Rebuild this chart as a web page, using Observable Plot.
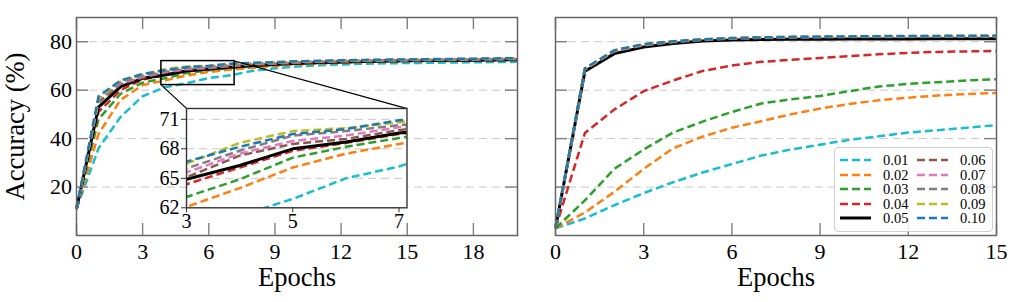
<!DOCTYPE html>
<html>
<head>
<meta charset="utf-8">
<script src="https://cdn.jsdelivr.net/npm/d3@7"></script>
<script src="https://cdn.jsdelivr.net/npm/@observablehq/plot@0.6"></script>
<style>
  body { margin: 0; background: #fff; }
  #wrap { position: relative; width: 1017px; height: 302px; font-family: "Liberation Serif", "Times New Roman", serif; overflow: hidden; }
  #wrap > svg { position: absolute; overflow: visible; }
  .legend { position: absolute; border: 1px solid #cfcfcf; border-radius: 4px; background: rgba(255,255,255,0.85); box-sizing: border-box; }
  .legend .item { position: absolute; height: 14px; display: flex; align-items: center; font-size: 14.5px; line-height: 14px; color: #000; }
  .legend svg { display: block; margin-right: 12px; }
</style>
</head>
<body>
<div id="wrap"></div>
<script>
// ---------------- data ----------------
const lrLabels = ["0.01", "0.02", "0.03", "0.04", "0.05", "0.06", "0.07", "0.08", "0.09", "0.10"];
const lrColors = ["#17becf", "#ff7f0e", "#2ca02c", "#d62728", "#000000", "#8c564b", "#e377c2", "#7f7f7f", "#bcbd22", "#1f77b4"];

// left panel (epochs 0..20)
const epochsLeft = [0, 1, 2, 3, 4, 5, 6, 7, 8, 9, 10, 11, 12, 13, 14, 15, 16, 17, 18, 19, 20];
const left001 = [11, 36, 49, 57.5, 61.2, 62.9, 65.0, 66.2, 68.0, 69.0, 69.8, 70.3, 70.6, 70.9, 71.1, 71.2, 71.3, 71.4, 71.5, 71.6, 71.7];
const left002 = [11, 42, 56, 62.1, 64.0, 66.1, 67.5, 68.5, 69.3, 70.0, 70.6, 71.0, 71.3, 71.6, 71.8, 72.0, 72.1, 72.2, 72.3, 72.4, 72.5];
const left003 = [11, 48, 58.5, 63.1, 64.9, 67.1, 68.2, 69.1, 69.8, 70.4, 70.9, 71.3, 71.6, 71.8, 72.0, 72.2, 72.3, 72.4, 72.5, 72.6, 72.7];
const left004 = [11, 51, 60, 64.4, 66.1, 67.8, 68.6, 69.5, 70.1, 70.6, 71.0, 71.3, 71.6, 71.8, 72.0, 72.2, 72.3, 72.4, 72.5, 72.6, 72.7];
const left005 = [11, 53, 61.5, 64.9, 66.3, 68.0, 68.7, 69.6, 70.2, 70.7, 71.1, 71.4, 71.6, 71.8, 72.0, 72.1, 72.2, 72.3, 72.4, 72.5, 72.6];
const left006 = [11, 55, 62.5, 65.1, 67.3, 68.5, 69.0, 69.9, 70.5, 70.9, 71.3, 71.6, 71.8, 72.0, 72.2, 72.3, 72.4, 72.5, 72.6, 72.7, 72.8];
const left007 = [11, 56, 63, 65.6, 67.5, 68.8, 69.35, 70.2, 70.7, 71.1, 71.5, 71.8, 72.0, 72.2, 72.3, 72.4, 72.5, 72.6, 72.7, 72.8, 72.9];
const left008 = [11, 56, 63.5, 66.0, 67.8, 69.35, 69.8, 70.4, 70.9, 71.3, 71.6, 71.9, 72.1, 72.3, 72.4, 72.5, 72.6, 72.7, 72.8, 72.9, 73.0];
const left009 = [11, 56.5, 64, 66.5, 68.6, 69.8, 70.1, 70.7, 71.1, 71.5, 71.8, 72.0, 72.2, 72.4, 72.5, 72.6, 72.7, 72.8, 72.9, 73.0, 73.1];
const left010 = [11, 57.5, 64, 66.7, 68.2, 69.5, 70.0, 70.9, 71.3, 71.6, 71.9, 72.1, 72.3, 72.5, 72.6, 72.7, 72.8, 72.9, 73.0, 73.1, 73.2];

// right panel (epochs 0..15)
const epochsRight = [0, 1, 2, 3, 4, 5, 6, 7, 8, 9, 10, 11, 12, 13, 14, 15];
const right001 = [3, 7, 12.5, 17.5, 22, 26, 29.5, 33, 35.5, 37.5, 39.5, 41, 42.5, 43.5, 44.5, 45.6];
const right002 = [3, 9.5, 18, 27.5, 36, 40.8, 44.5, 47.2, 50, 52.4, 54.3, 55.8, 56.9, 57.8, 58.4, 58.8];
const right003 = [3, 14.5, 27.5, 35.5, 42.5, 47, 51, 54.5, 56.2, 57.6, 59.6, 61.5, 62.6, 63.3, 64.0, 64.5];
const right004 = [3, 42.3, 52, 59.6, 64, 67.9, 70.2, 71.7, 72.5, 73.3, 74.1, 74.8, 75.4, 75.8, 76.0, 76.2];
const right005 = [3, 67.8, 75.1, 77.8, 79.3, 80.3, 80.7, 80.9, 81.0, 81.0, 81.1, 81.1, 81.1, 81.2, 81.2, 81.2];
const right006 = [3, 68.5, 76.0, 78.5, 79.8, 80.7, 81.2, 81.5, 81.7, 81.8, 81.9, 82.0, 82.0, 82.1, 82.1, 82.1];
const right007 = [3, 68.7, 76.2, 78.7, 80.0, 80.9, 81.4, 81.7, 81.9, 82.0, 82.1, 82.2, 82.2, 82.3, 82.3, 82.3];
const right008 = [3, 68.8, 76.3, 78.8, 80.0, 80.9, 81.4, 81.7, 81.9, 82.0, 82.1, 82.2, 82.3, 82.3, 82.3, 82.4];
const right009 = [3, 68.9, 76.4, 78.9, 80.1, 81.0, 81.5, 81.8, 82.0, 82.1, 82.2, 82.3, 82.3, 82.4, 82.4, 82.4];
const right010 = [3, 69, 76.5, 79, 80.2, 81.0, 81.5, 81.8, 82.0, 82.1, 82.2, 82.3, 82.4, 82.4, 82.5, 82.5];

// ticks
const xTicksLeft = [0, 3, 6, 9, 12, 15, 18];
const xTicksRight = [0, 3, 6, 9, 12, 15];
const yTicks = [20, 40, 60, 80];
const insetXTicks = [3, 5, 7];
const insetYTicks = [62, 65, 68, 71];

// domains / annotation geometry (data units)
const xDomainLeft = [0, 20];
const xDomainRight = [0, 15];
const yDomain = [0, 90];
const insetXDomain = [3, 7.15];
const insetYDomain = [62, 72.1];
const zoomBox = {x1: 3.85, x2: 7.17, y1: 62.1, y2: 72};
const insetPlace = {x1: 5, x2: 15, y1: 11.4, y2: 52.4};

// ---------------- helpers ----------------
const serif = "'Liberation Serif', 'Times New Roman', serif";
function rowsOf(epochs, series) {
  const rows = [];
  series.forEach((vals, i) => vals.forEach((v, j) => rows.push({epoch: epochs[j], acc: v, lr: lrLabels[i], k: i})));
  return rows;
}
const leftRows = rowsOf(epochsLeft, [left001, left002, left003, left004, left005, left006, left007, left008, left009, left010]);
const rightRows = rowsOf(epochsRight, [right001, right002, right003, right004, right005, right006, right007, right008, right009, right010]);

function lineMarks(rows, extra = {}) {
  return lrLabels.map((lr, i) => Plot.line(rows.filter(d => d.lr === lr), {
    x: "epoch", y: "acc",
    stroke: lrColors[i],
    strokeWidth: lr === "0.05" ? 3 : 2.5,
    strokeDasharray: lr === "0.05" ? null : "8,4",
    strokeLinecap: "butt",
    strokeLinejoin: "round",
    ...extra
  }));
}
function inwardTicks(xt, yt, innerW, innerH, len) {
  const o = {stroke: "#808080", strokeWidth: 1.4};
  return [
    Plot.tickX(xt, {x: d => d, insetTop: innerH - len, ...o}),
    Plot.tickX(xt, {x: d => d, insetBottom: innerH - len, ...o}),
    Plot.tickY(yt, {y: d => d, insetRight: innerW - len, ...o}),
    Plot.tickY(yt, {y: d => d, insetLeft: innerW - len, ...o})
  ];
}
const grid = (yt) => Plot.ruleY(yt, {stroke: "#c8c8c8", strokeWidth: 1, strokeDasharray: "8,5"});

const wrap = document.getElementById("wrap");
function place(svg, left, top) {
  svg.style.left = left + "px";
  svg.style.top = top + "px";
  wrap.appendChild(svg);
}

// ---------------- left panel ----------------
const LW = 530, H = 302;
const LM = {l: 76, r: 13, t: 17, b: 67};
const leftPlot = Plot.plot({
  width: LW, height: H,
  marginLeft: LM.l, marginRight: LM.r, marginTop: LM.t, marginBottom: LM.b,
  x: {domain: xDomainLeft, axis: null},
  y: {domain: yDomain, axis: null},
  style: {fontFamily: serif, background: "transparent", color: "#000"},
  marks: [
    grid(yTicks),
    ...lineMarks(leftRows),
    Plot.rect([zoomBox], {x1: "x1", x2: "x2", y1: "y1", y2: "y2", fill: "none", stroke: "#000", strokeWidth: 1.5}),
    Plot.link([
      {x1: zoomBox.x1, y1: zoomBox.y1, x2: insetPlace.x1, y2: insetPlace.y2},
      {x1: zoomBox.x2, y1: zoomBox.y2, x2: insetPlace.x2, y2: insetPlace.y2}
    ], {x1: "x1", y1: "y1", x2: "x2", y2: "y2", stroke: "#000", strokeWidth: 1.2}),
    ...inwardTicks(xTicksLeft, yTicks, LW - LM.l - LM.r, H - LM.t - LM.b, 12),
    Plot.frame({stroke: "#666", strokeWidth: 1.5}),
    Plot.axisX(xTicksLeft, {tickSize: 0, tickPadding: 8, fontSize: 22, label: null}),
    Plot.axisY(yTicks, {tickSize: 0, tickPadding: 4.5, fontSize: 22, label: null}),
    Plot.text(["Epochs"], {frameAnchor: "bottom", lineAnchor: "middle", textAnchor: "middle", dy: 42, fontSize: 26.5}),
    Plot.text(["Accuracy (%)"], {frameAnchor: "left", lineAnchor: "middle", textAnchor: "middle", dx: -61, rotate: -90, fontSize: 26.5})
  ]
});
place(leftPlot, 0, 0);

// ---------------- inset ----------------
const sx = leftPlot.scale("x"), sy = leftPlot.scale("y");
const ix1 = sx.apply(insetPlace.x1), ix2 = sx.apply(insetPlace.x2);
const iyTop = sy.apply(insetPlace.y2), iyBot = sy.apply(insetPlace.y1);
const IM = {l: 45, r: 6, t: 6, b: 30};
const insetPlot = Plot.plot({
  width: (ix2 - ix1) + IM.l + IM.r,
  height: (iyBot - iyTop) + IM.t + IM.b,
  marginLeft: IM.l, marginRight: IM.r, marginTop: IM.t, marginBottom: IM.b,
  x: {domain: insetXDomain, axis: null},
  y: {domain: insetYDomain, axis: null},
  style: {fontFamily: serif, background: "transparent", color: "#000"},
  marks: [
    Plot.frame({fill: "#fff"}),
    grid(insetYTicks.slice(1)),
    ...lineMarks(leftRows, {clip: true}),
    Plot.frame({stroke: "#333", strokeWidth: 1.4}),
    Plot.axisX(insetXTicks, {tickSize: 5, tickPadding: 1, fontSize: 20, label: null, stroke: "#333"}),
    Plot.axisY(insetYTicks, {tickSize: 5, tickPadding: 2, fontSize: 20, label: null, stroke: "#333"})
  ]
});
place(insetPlot, ix1 - IM.l, iyTop - IM.t);

// ---------------- right panel ----------------
const RW = 487;
const RM = {l: 25, r: 21, t: 17, b: 67};
const rightPlot = Plot.plot({
  width: RW, height: H,
  marginLeft: RM.l, marginRight: RM.r, marginTop: RM.t, marginBottom: RM.b,
  x: {domain: xDomainRight, axis: null},
  y: {domain: yDomain, axis: null},
  style: {fontFamily: serif, background: "transparent", color: "#000"},
  marks: [
    grid(yTicks),
    ...lineMarks(rightRows),
    ...inwardTicks(xTicksRight, yTicks, RW - RM.l - RM.r, H - RM.t - RM.b, 12),
    Plot.frame({stroke: "#666", strokeWidth: 1.5}),
    Plot.axisX(xTicksRight, {tickSize: 0, tickPadding: 8, fontSize: 22, label: null}),
    Plot.text(["Epochs"], {frameAnchor: "bottom", lineAnchor: "middle", textAnchor: "middle", dy: 42, fontSize: 26.5})
  ]
});
place(rightPlot, 530, 0);

// ---------------- legend ----------------
const legend = document.createElement("div");
legend.className = "legend";
Object.assign(legend.style, {left: "834px", top: "147px", width: "159px", height: "85px"});
lrLabels.forEach((lr, i) => {
  const col = Math.floor(i / 5), row = i % 5;
  const item = document.createElement("div");
  item.className = "item";
  item.style.left = (5 + col * 77) + "px";
  item.style.top = (5 + row * 14.5) + "px";
  const solid = lr === "0.05";
  item.innerHTML = `<svg width="31" height="6"><line x1="0" y1="3" x2="31" y2="3" stroke="${lrColors[i]}" stroke-width="${solid ? 3 : 2.5}" ${solid ? "" : 'stroke-dasharray="8,4"'}/></svg><span>${lr}</span>`;
  legend.appendChild(item);
});
wrap.appendChild(legend);
</script>
</body>
</html>
